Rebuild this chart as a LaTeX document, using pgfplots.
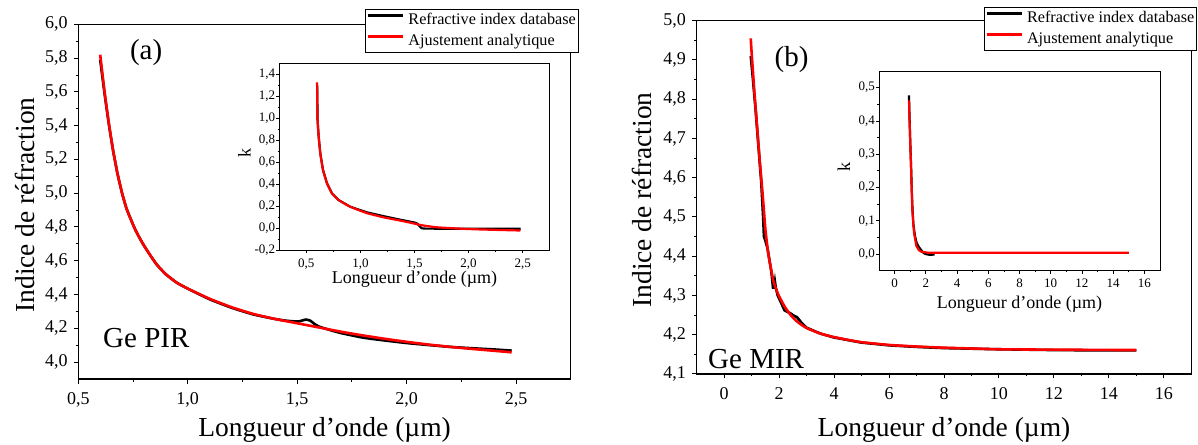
\documentclass[border=0pt]{standalone}
\usepackage{pgfplots}
\pgfplotsset{compat=1.18}
\usepackage{fontspec}
\setmainfont{Liberation Serif}

\definecolor{fitred}{RGB}{255,0,0}

\pgfplotsset{
  common/.style={
    scale only axis,
    tick align=outside,
    xtick pos=left, ytick pos=left,
    minor x tick num=1, minor y tick num=1,
    /pgf/number format/assume math mode=true,
    /pgf/number format/use comma,
    every tick/.style={black},
    axis background/.style={fill=white},
  },
  mainax/.style={
    common,
    axis line style={line width=1.1pt},
    major tick style={line width=1pt},
    minor tick style={line width=0.9pt},
    major tick length=4.5pt, minor tick length=2.5pt,
    tick label style={font=\fontsize{18}{18}\selectfont, inner sep=0pt},
    xticklabel style={yshift=-9pt},
    yticklabel style={xshift=-6pt},
    label style={font=\fontsize{27.5}{30}\selectfont, inner sep=0pt},
    legend style={anchor=north west, draw=black, line width=1pt, fill=white,
      inner xsep=1pt, inner ysep=2pt, row sep=2.7pt, column sep=2.5pt,
      font=\fontsize{16.2}{16.2}\selectfont,
      nodes={inner sep=1.5pt, text height=11.5pt, text depth=3.5pt},
      cells={anchor=west}},
    legend image code/.code={\draw[#1, line width=3pt] (0pt,5pt) -- (35pt,5pt);},
  },
  insetax/.style={
    common,
    axis line style={line width=0.9pt},
    major tick style={line width=0.8pt},
    minor tick style={line width=0.7pt},
    major tick length=3pt, minor tick length=1.8pt,
    tick label style={font=\fontsize{13}{13}\selectfont, inner sep=0pt},
    xticklabel style={yshift=-5pt},
    yticklabel style={xshift=-1pt},
    label style={font=\fontsize{18}{20}\selectfont, inner sep=0pt},
  },
}

\begin{document}
\begin{tikzpicture}
\path[use as bounding box] (0pt,0pt) rectangle (1198pt,444pt);

% ---------------- (a) main ----------------
\begin{axis}[mainax,
  at={(78.3pt,65pt)}, anchor=south west,
  width=492.5pt, height=354.7pt,
  xmin=0.5, xmax=2.75, ymin=3.9, ymax=6.0,
  xtick={0.5,1.0,1.5,2.0,2.5},
  ytick={4.0,4.2,4.4,4.6,4.8,5.0,5.2,5.4,5.6,5.8,6.0},
  xticklabel style={/pgf/number format/.cd, fixed, fixed zerofill, precision=1},
  yticklabel style={/pgf/number format/.cd, fixed, fixed zerofill, precision=1},
  xlabel={Longueur d’onde (µm)},
  ylabel={Indice de réfraction},
  xlabel style={at={(axis description cs:0.5,-0.1635)}, anchor=base},
  ylabel style={at={(axis description cs:-0.0889,0.4906)}, anchor=base},
  legend style={at={(axis description cs:0.5821,1.0431)}},
]
\addplot[black, line width=2.6pt, smooth, tension=0.3] coordinates {
(0.600,5.79) (0.620,5.59) (0.640,5.405) (0.660,5.245) (0.680,5.11) (0.700,5.00)
(0.720,4.91) (0.740,4.845) (0.760,4.785) (0.780,4.735) (0.800,4.69) (0.830,4.63)
(0.860,4.575) (0.900,4.52) (0.950,4.47) (1.000,4.435) (1.100,4.372) (1.200,4.322)
(1.300,4.282) (1.400,4.255) (1.450,4.245) (1.500,4.240) (1.520,4.245) (1.540,4.252)
(1.560,4.245) (1.580,4.225) (1.600,4.210) (1.650,4.190) (1.700,4.172) (1.800,4.145)
(1.900,4.128) (2.000,4.113) (2.100,4.101) (2.200,4.090) (2.300,4.082) (2.400,4.075)
(2.480,4.068)
};
\addlegendentry{Refractive index database}
\addplot[fitred, line width=2.6pt, smooth, tension=0.3] coordinates {
(0.600,5.82) (0.620,5.60) (0.640,5.41) (0.660,5.245) (0.680,5.11) (0.700,5.00)
(0.720,4.91) (0.740,4.845) (0.760,4.785) (0.780,4.735) (0.800,4.69) (0.830,4.63)
(0.860,4.575) (0.900,4.52) (0.950,4.47) (1.000,4.435) (1.100,4.375) (1.200,4.325)
(1.300,4.285) (1.400,4.255) (1.500,4.230) (1.600,4.205) (1.700,4.180) (1.800,4.158)
(1.900,4.138) (2.000,4.120) (2.100,4.104) (2.200,4.090) (2.300,4.078) (2.400,4.067)
(2.480,4.058)
};
\addlegendentry{Ajustement analytique}
\node[font=\fontsize{29}{29}\selectfont, anchor=base, inner sep=0pt] at (axis cs:0.81,5.79) {(a)};
\node[font=\fontsize{29}{29}\selectfont, anchor=base west, inner sep=0pt] at (axis cs:0.613,4.089) {Ge PIR};
\end{axis}

% ---------------- (a) inset ----------------
\begin{axis}[insetax,
  at={(279.3pt,193.7pt)}, anchor=south west,
  width=270.4pt, height=187pt,
  xmin=0.25, xmax=2.75, ymin=-0.2, ymax=1.5,
  xtick={0.5,1.0,1.5,2.0,2.5},
  ytick={-0.2,0,0.2,0.4,0.6,0.8,1.0,1.2,1.4},
  xticklabel style={/pgf/number format/.cd, fixed, fixed zerofill, precision=1},
  yticklabel style={/pgf/number format/.cd, fixed, fixed zerofill, precision=1},
  xlabel={Longueur d’onde (µm)},
  ylabel={k},
  xlabel style={at={(axis description cs:0.5,-0.1775)}, anchor=base},
  ylabel style={at={(axis description cs:-0.1058,0.522)}, anchor=base},
]
\addplot[black, line width=2.2pt] coordinates {
(0.600,1.300) (0.604,0.985) (0.614,0.833) (0.629,0.682) (0.654,0.530) (0.691,0.409)
(0.737,0.318) (0.798,0.257) (0.906,0.196) (1.060,0.145) (1.214,0.110) (1.368,0.078)
(1.450,0.062) (1.506,0.051) (1.530,0.040) (1.550,0.015) (1.568,0.000) (1.600,-0.003)
(2.000,-0.004) (2.480,-0.004)
};
\addplot[fitred, line width=2.2pt, smooth, tension=0.3] coordinates {
(0.599,1.327) (0.604,0.985) (0.614,0.833) (0.629,0.682) (0.654,0.530) (0.691,0.409)
(0.737,0.318) (0.798,0.257) (0.906,0.196) (1.060,0.138) (1.214,0.100) (1.368,0.070)
(1.490,0.045) (1.553,0.030) (1.707,0.009) (1.980,-0.006) (2.200,-0.013) (2.480,-0.020)
};
\end{axis}

% ---------------- (b) main ----------------
\begin{axis}[mainax,
  at={(696.6pt,70pt)}, anchor=south west,
  width=494.8pt, height=353.3pt,
  xmin=-1, xmax=17, ymin=4.1, ymax=5.0,
  xtick={0,2,4,6,8,10,12,14,16},
  ytick={4.1,4.2,4.3,4.4,4.5,4.6,4.7,4.8,4.9,5.0},
  yticklabel style={/pgf/number format/.cd, fixed, fixed zerofill, precision=1},
  xlabel={Longueur d’onde (µm)},
  ylabel={Indice de réfraction},
  xlabel style={at={(axis description cs:0.5,-0.1775)}, anchor=base},
  ylabel style={at={(axis description cs:-0.0914,0.4925)}, anchor=base},
  legend style={at={(axis description cs:0.5798,1.0388)}},
]
\addplot[black, line width=2.6pt] coordinates {
(0.97,4.91) (1.05,4.85) (1.15,4.77) (1.25,4.68) (1.35,4.59) (1.42,4.50)
(1.45,4.45) (1.50,4.44) (1.58,4.42) (1.65,4.39) (1.72,4.36) (1.78,4.32)
(1.82,4.32) (1.85,4.335) (1.88,4.32) (1.95,4.30) (2.05,4.285) (2.20,4.262)
(2.40,4.255) (2.55,4.248) (2.65,4.245) (2.80,4.232) (3.00,4.218) (3.50,4.203)
(4.00,4.193) (5.00,4.180) (6.00,4.173) (7.00,4.169) (8.00,4.166) (10.00,4.163)
(12.00,4.161) (14.00,4.160) (15.00,4.160)
};
\addlegendentry{Refractive index database}
\addplot[fitred, line width=2.6pt, smooth, tension=0.3] coordinates {
(0.97,4.955) (1.00,4.92) (1.10,4.82) (1.20,4.73) (1.30,4.64) (1.40,4.56)
(1.50,4.47) (1.60,4.41) (1.70,4.37) (1.80,4.335) (1.90,4.315) (2.00,4.298)
(2.20,4.272) (2.40,4.252) (2.60,4.237) (2.80,4.226) (3.00,4.217) (3.50,4.203)
(4.00,4.194) (4.50,4.187) (5.00,4.181) (6.00,4.174) (7.00,4.170) (8.00,4.167)
(9.00,4.165) (10.00,4.163) (12.00,4.162) (15.00,4.161)
};
\addlegendentry{Ajustement analytique}
\node[font=\fontsize{29}{29}\selectfont, anchor=base, inner sep=0pt] at (axis cs:2.452,4.883) {(b)};
\node[font=\fontsize{29}{29}\selectfont, anchor=base west, inner sep=0pt] at (axis cs:-0.585,4.1146) {Ge MIR};
\end{axis}

% ---------------- (b) inset ----------------
\begin{axis}[insetax,
  at={(879pt,173.3pt)}, anchor=south west,
  width=281pt, height=199.7pt,
  xmin=-1, xmax=17, ymin=-0.05, ymax=0.55,
  xtick={0,2,4,6,8,10,12,14,16},
  ytick={0,0.1,0.2,0.3,0.4,0.5},
  yticklabel style={/pgf/number format/.cd, fixed, fixed zerofill, precision=1},
  xlabel={Longueur d’onde (µm)},
  ylabel={k},
  xlabel style={at={(axis description cs:0.5,-0.189)}, anchor=base},
  ylabel style={at={(axis description cs:-0.1032,0.521)}, anchor=base},
]
\addplot[black, line width=2.2pt] coordinates {
(0.92,0.477) (0.95,0.42) (1.00,0.34) (1.05,0.27) (1.10,0.19) (1.15,0.13)
(1.20,0.09) (1.30,0.055) (1.40,0.035) (1.50,0.025) (1.60,0.018) (1.70,0.012)
(1.80,0.006) (1.90,0.002) (2.00,0.000) (2.20,-0.002) (2.40,-0.002) (2.56,-0.001)
};
\addplot[fitred, line width=2.2pt] coordinates {
(0.92,0.462) (0.95,0.41) (1.00,0.336) (1.07,0.236) (1.13,0.136) (1.24,0.065)
(1.39,0.025) (1.55,0.012) (1.71,0.007) (2.14,0.004) (4.00,0.004) (15.00,0.004)
};
\end{axis}
\end{tikzpicture}
\end{document}
